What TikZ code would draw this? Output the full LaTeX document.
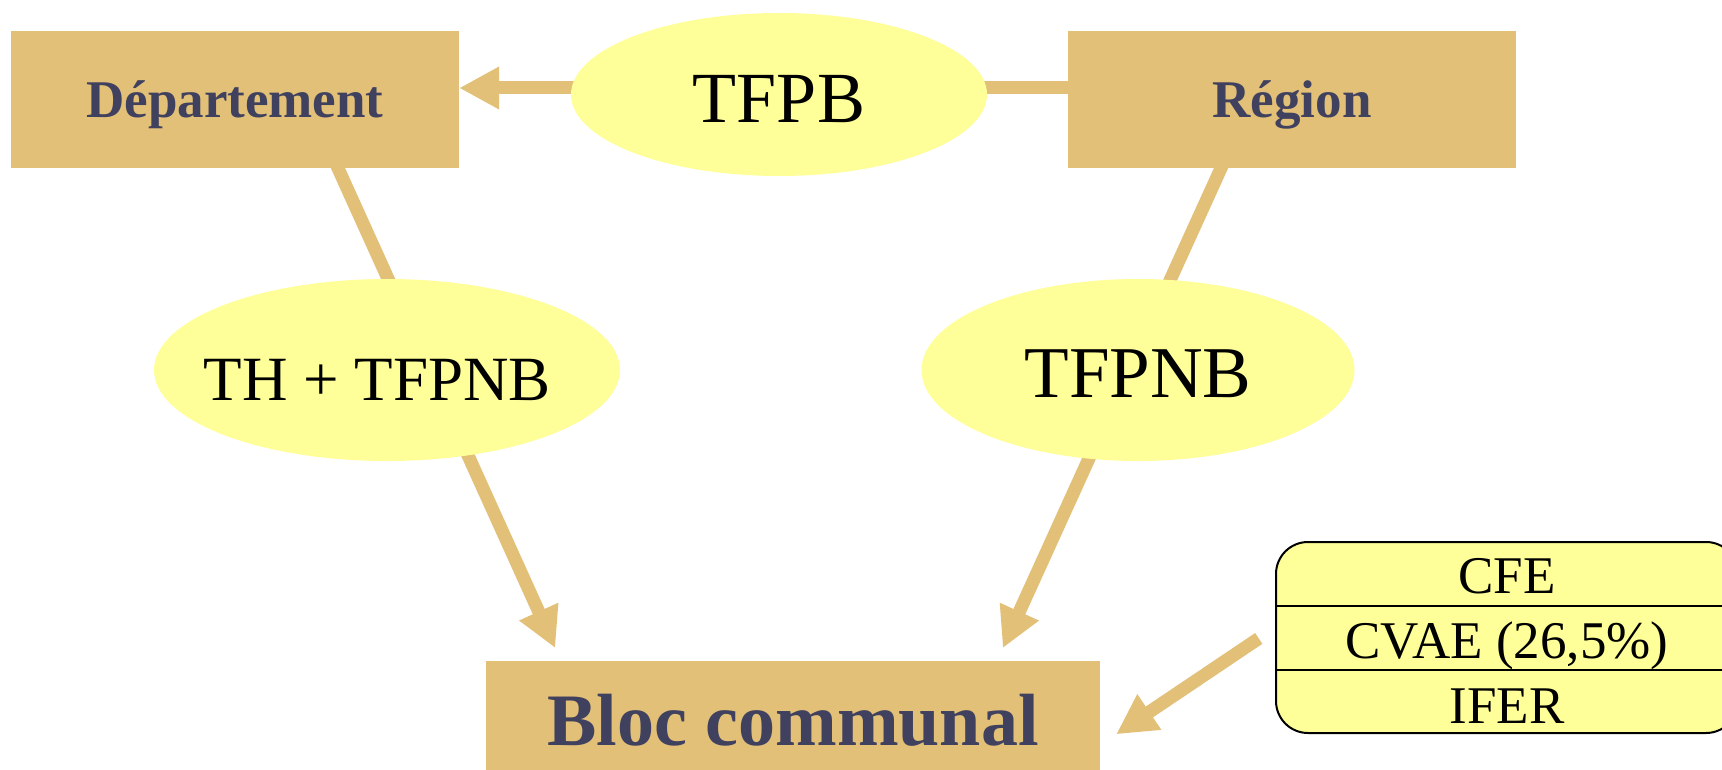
\documentclass[tikz,border=0pt]{standalone}
\usepackage{fontspec}
\setmainfont{Liberation Serif}
\usetikzlibrary{shapes.geometric,arrows.meta,backgrounds}
\definecolor{boxtan}{HTML}{E2C077}
\definecolor{ellyellow}{HTML}{FFFF99}
\definecolor{navytext}{HTML}{40405F}
\newcommand{\ctrtxt}[1]{\makebox[0pt]{#1}}
\begin{document}
\begin{tikzpicture}[x=1pt,y=-1pt,
  tanbox/.style={rectangle, fill=boxtan, inner sep=0pt, text=navytext,
    font=\bfseries\fontsize{53}{60}\selectfont, text depth=0pt},
  yellipse/.style={ellipse, fill=ellyellow, inner sep=0pt, text=black, text depth=0pt},
  conn/.style={draw=boxtan, line width=13pt},
  tipped/.style={-{Triangle[length=40pt,width=40pt]}},
  cfetext/.style={font=\fontsize{53}{60}\selectfont, inner sep=0pt, text=black},
  divider/.style={draw=black, line width=2pt}
]
\clip (0,0) rectangle (1722,770);

\node[tanbox, minimum width=448pt, minimum height=137pt, text height=37pt] (dep) at (235,99.5) {Département};
\node[tanbox, minimum width=448pt, minimum height=137pt, text height=37pt] (reg) at (1292,99.5) {Région};

\node[yellipse, minimum width=416pt, minimum height=163pt,
  font=\fontsize{72}{80}\selectfont, text height=56pt] (tfpb) at (779,94.5) {\ctrtxt{TFPB}};
\node[yellipse, minimum width=466pt, minimum height=182pt,
  font=\fontsize{63}{70}\selectfont, text height=60pt] (th) at (387,370) {\ctrtxt{TH + TFPNB\kern19pt}};
\node[yellipse, minimum width=433pt, minimum height=182pt,
  font=\fontsize{73}{80}\selectfont, text height=54pt] (tfpnb) at (1138,370) {\ctrtxt{TFPNB}};

\node[tanbox, minimum width=614pt, minimum height=120pt,
  font=\bfseries\fontsize{74}{80}\selectfont, text height=49pt] (bloc) at (793,721) {Bloc communal};

\node[draw=black, line width=2pt, fill=ellyellow, rounded corners=32pt,
  minimum width=462pt, minimum height=191pt, inner sep=0pt] (cfe) at (1507,637.5) {};
\draw[divider] ([yshift=31.5pt]cfe.west) -- ([yshift=31.5pt]cfe.east);
\draw[divider] ([yshift=-32.5pt]cfe.west) -- ([yshift=-32.5pt]cfe.east);
\node[cfetext, anchor=base] (c1) at (1507,593) {CFE};
\node[cfetext, anchor=base] (c2) at (1507,658) {CVAE (26,5\%)};
\node[cfetext, anchor=base] (c3) at (1507,723) {IFER};

\begin{pgfonlayer}{background}
\fill[white] (0,0) rectangle (1722,770);
\draw[conn, tipped, shorten <=-10pt] ([yshift=11.5pt]reg.west) -- ([yshift=11.5pt]dep.east);
\draw[conn, tipped, shorten <=-10pt, shorten >=14pt] ([xshift=103pt]dep.south) -- ([xshift=-232pt]bloc.north);
\draw[conn, tipped, shorten <=-10pt, shorten >=14pt] ([xshift=-71pt]reg.south) -- ([xshift=204pt]bloc.north);
\draw[conn, tipped, shorten <=19.6pt, shorten >=19.2pt] ([yshift=10pt]cfe.west) -- ([yshift=-24pt]bloc.east);
\end{pgfonlayer}
\end{tikzpicture}
\end{document}
